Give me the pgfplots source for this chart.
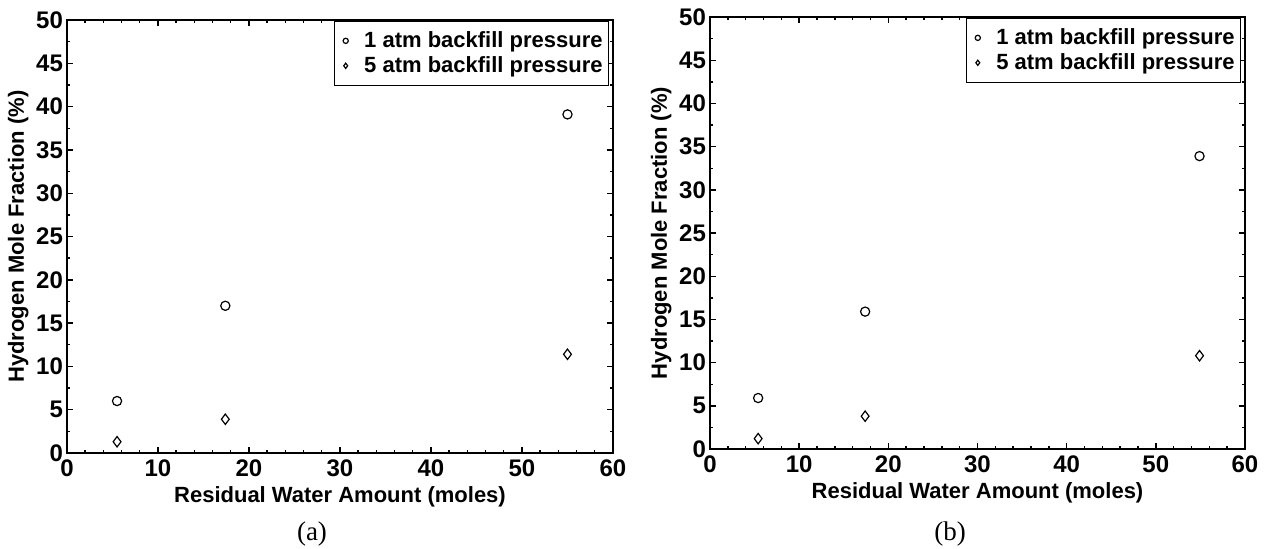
\documentclass[border=0pt]{standalone}
\usepackage{pgfplots}
\pgfplotsset{compat=1.18}
\usepackage{fontspec}
\setmainfont{Liberation Sans}
\newfontfamily\seriffont{Liberation Serif}

\pgfplotsset{
  myax/.style={
    scale only axis,
    xmin=0, xmax=60, ymin=0, ymax=50,
    xtick distance=10, ytick distance=5,
    minor x tick num=4, minor y tick num=1,
    tick align=inside,
    major tick length=2.8pt, minor tick length=1.6pt,
    axis line style={line width=1pt},
    every tick/.style={line width=0.7pt, black},
    /pgf/number format/assume math mode=true,
    tick label style={font=\bfseries\fontsize{12}{14}\selectfont},
    label style={font=\bfseries\fontsize{11}{13}\selectfont},
    xlabel={Residual Water Amount (moles)},
    ylabel={Hydrogen Mole Fraction (\%)},
    yticklabel style={xshift=1.5pt},
    xlabel style={yshift=2pt},
    ylabel style={yshift=-3pt},
    legend style={at={(0.993,0.998)}, anchor=north east, draw=black, line width=0.5pt,
      font=\bfseries\fontsize{11}{12}\selectfont, inner xsep=1pt, inner ysep=3pt, row sep=-1pt,
      cells={anchor=west}},
    legend image code/.code={\path (0pt,0pt) (11.5pt,0pt); \draw[#1, mark size=1.3pt] plot coordinates {(4.5pt,0pt)};},
  },
  s1/.style={only marks, mark=o, mark size=2.3pt, black, mark options={line width=0.6pt}},
  s2/.style={only marks, mark=diamond, mark size=2.6pt, black, mark options={line width=0.6pt}},
}

\begin{document}
\begin{tikzpicture}
\path[use as bounding box] (0,0) rectangle (633pt,274pt);

\begin{axis}[myax, at={(33.5pt,47.5pt)}, anchor=south west, width=273pt, height=216.5pt]
\addplot[s1] coordinates {(5.5,6.0) (17.4,17.0) (55.0,39.1)};
\addlegendentry{1 atm backfill pressure}
\addplot[s2] coordinates {(5.5,1.3) (17.4,3.9) (55.0,11.4)};
\addlegendentry{5 atm backfill pressure}
\end{axis}

\begin{axis}[myax, at={(355pt,49.5pt)}, anchor=south west, width=267.5pt, height=216pt]
\addplot[s1] coordinates {(5.4,5.9) (17.4,15.9) (54.9,33.9)};
\addlegendentry{1 atm backfill pressure}
\addplot[s2] coordinates {(5.4,1.2) (17.4,3.8) (54.9,10.8)};
\addlegendentry{5 atm backfill pressure}
\end{axis}

\node[font=\seriffont\fontsize{13.5}{15}\selectfont] at (156pt,7pt) {(a)};
\node[font=\seriffont\fontsize{13.5}{15}\selectfont] at (475pt,7pt) {(b)};
\end{tikzpicture}
\end{document}
